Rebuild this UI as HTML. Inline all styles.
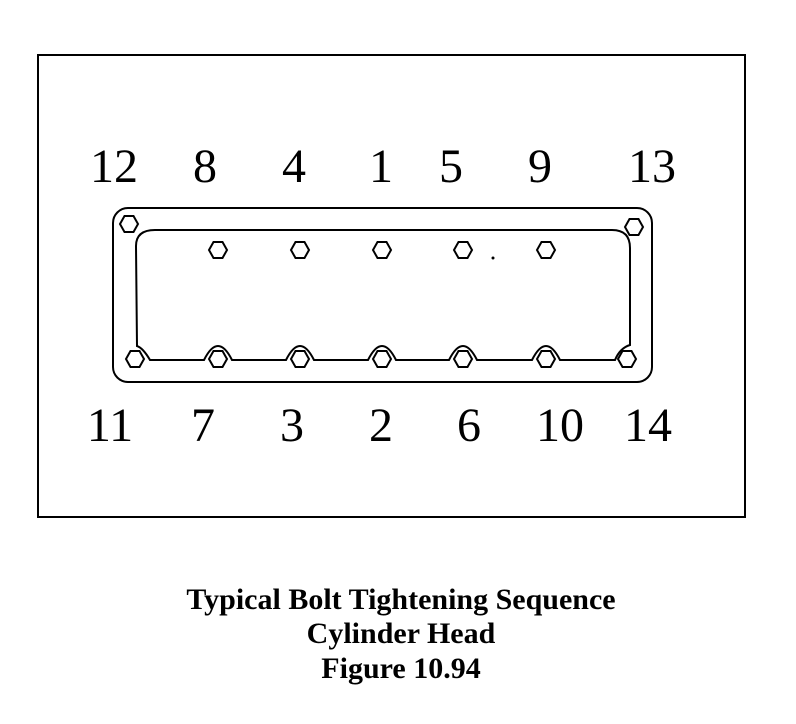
<!DOCTYPE html>
<html><head><meta charset="utf-8"><style>
html,body{margin:0;padding:0;background:#fff;}
svg{display:block;}
</style></head><body>
<svg width="796" height="724" viewBox="0 0 796 724" xmlns="http://www.w3.org/2000/svg">
<rect x="38" y="55" width="707" height="462" fill="none" stroke="#000" stroke-width="2"/>
<g font-family="Liberation Serif, serif" font-size="48" text-anchor="middle" fill="#000">
<text x="114" y="182">12</text><text x="205" y="182">8</text><text x="294" y="182">4</text>
<text x="381" y="182">1</text><text x="451" y="182">5</text><text x="540" y="182">9</text>
<text x="652" y="182">13</text>
<text x="110" y="441">11</text><text x="203" y="441">7</text><text x="292" y="441">3</text>
<text x="381" y="441">2</text><text x="469" y="441">6</text><text x="560" y="441">10</text>
<text x="648" y="441">14</text>
</g>
<rect x="113" y="208" width="539" height="174" rx="15" fill="none" stroke="#000" stroke-width="2"/>
<path d="M150,360 Q143,348 137,346 L136,246 Q136,230 155,230 L612,230 Q630,230 630,248 L630,345 Q620,348 615,360 L560,360 Q553,346 546,346 Q539,346 532,360 L477,360 Q470,346 463,346 Q456,346 449,360 L396,360 Q389,346 382,346 Q375,346 368,360 L314,360 Q307,346 300,346 Q293,346 286,360 L232,360 Q225,346 218,346 Q211,346 204,360 Z" fill="none" stroke="#000" stroke-width="2"/>
<g fill="#fff" stroke="#000" stroke-width="2">
<polygon id="h" points="-9,0 -4.5,-8 4.5,-8 9,0 4.5,8 -4.5,8" transform="translate(129,224)"/>
<use href="#h" transform="translate(505,3)"/>
<use href="#h" transform="translate(89,26)"/><use href="#h" transform="translate(171,26)"/>
<use href="#h" transform="translate(253,26)"/><use href="#h" transform="translate(334,26)"/>
<use href="#h" transform="translate(417,26)"/>
<use href="#h" transform="translate(6,135)"/><use href="#h" transform="translate(89,135)"/>
<use href="#h" transform="translate(171,135)"/><use href="#h" transform="translate(253,135)"/>
<use href="#h" transform="translate(334,135)"/><use href="#h" transform="translate(417,135)"/>
<use href="#h" transform="translate(498,135)"/>
</g>
<circle cx="493" cy="258" r="1.5" fill="#000"/>
<g font-family="Liberation Serif, serif" font-weight="bold" font-size="30" text-anchor="middle" fill="#000">
<text x="401" y="609">Typical Bolt Tightening Sequence</text>
<text x="401" y="643">Cylinder Head</text>
<text x="401" y="678">Figure 10.94</text>
</g>
</svg>
</body></html>
